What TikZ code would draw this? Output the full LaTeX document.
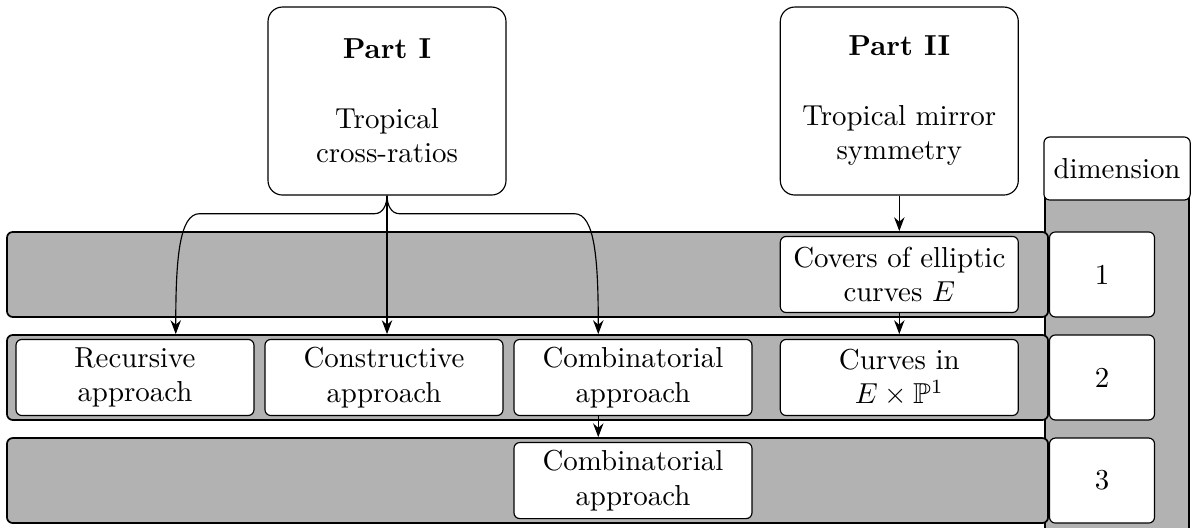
\documentclass[tikz,border=0pt]{standalone}
\usepackage{amsmath,amssymb}
\usetikzlibrary{arrows.meta, positioning, calc}
\definecolor{bandgray}{gray}{0.7}

\begin{document}
\begin{tikzpicture}[>={Stealth},
  partbox/.style={draw, rounded corners=5pt, fill=white, align=center, minimum width=2.895cm, minimum height=2.287cm},
  band/.style={draw, semithick, rounded corners=2pt, fill=bandgray, minimum width=12.665cm, minimum height=1.034cm},
  topic/.style={draw, rounded corners=2pt, fill=white, align=center, inner sep=2pt, minimum width=2.895cm, minimum height=0.925cm},
  dimcell/.style={draw, rounded corners=2pt, fill=white, minimum width=1.277cm, minimum height=1.034cm}]
  \useasboundingbox (0,0) rectangle (14.513,-6.423);

  \draw[fill=bandgray] (12.713,-1.8) rectangle (14.465,-6.8);
  \node[draw, rounded corners=2pt, fill=white, minimum width=1.752cm, minimum height=0.766cm] (dim) at (13.589,-2.050) {dimension};

  \node[partbox] (p1) at (4.708,-1.229) {\textbf{Part I}\\[12pt]Tropical\\cross-ratios};
  \node[partbox] (p2) at (10.94,-1.229) {\textbf{Part II}\\[12pt]Tropical mirror\\symmetry};

  \node[band] (row1) at (6.4175,-3.339) {};
  \node[band] (row2) at (6.4175,-4.592) {};
  \node[band] (row3) at (6.4175,-5.846) {};

  \node[dimcell, right=0pt of row1] (d1) {1};
  \node[dimcell, right=0pt of row2] (d2) {2};
  \node[dimcell, right=0pt of row3] (d3) {3};

  \node[topic] (rec) at (1.642,-4.592) {Recursive\\approach};
  \node[topic, right=0.12cm of rec] (con) {Constructive\\approach};
  \node[topic, right=0.12cm of con] (comb2) {Combinatorial\\approach};
  \node[topic] (curves) at (p2 |- row2) {Curves in\\$E\times\mathbb{P}^1$};
  \node[topic] (covers) at (p2 |- row1) {Covers of elliptic\\curves $E$};
  \node[topic] (comb3) at (comb2 |- row3) {Combinatorial\\approach};

  \coordinate (lfoot) at ($(p1.south |- row2.north)+(-2.57,0)$);
  \coordinate (rfoot) at ($(p1.south |- row2.north)+(2.57,0)$);

  \draw[->] (p1.south) -- (p1.south |- row2.north);
  \draw[->] (p1.south) to[out=-90,in=0] ++(-0.15,-0.22) -- ++(-2.13,0) to[out=180,in=90,out distance=0.25cm,in distance=0.9cm] (lfoot);
  \draw[->] (p1.south) to[out=-90,in=180] ++(0.15,-0.22) -- ++(2.13,0) to[out=0,in=90,out distance=0.25cm,in distance=0.9cm] (rfoot);
  \draw[->] (p2.south) -- (p2.south |- row1.north);
  \draw[->] (covers.south) -- (covers.south |- row2.north);
  \draw[->] (comb2.south -| rfoot) -- (rfoot |- row3.north);
\end{tikzpicture}
\end{document}
